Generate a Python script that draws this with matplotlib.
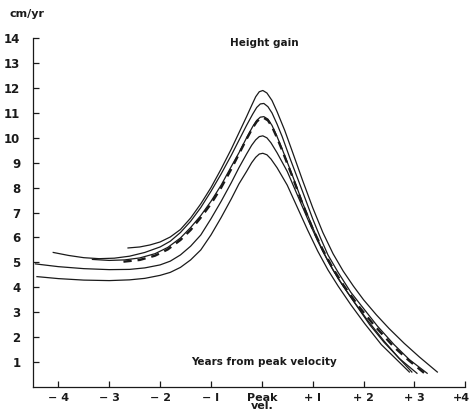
import matplotlib
matplotlib.use("Agg")
import matplotlib.pyplot as plt
from matplotlib.transforms import ScaledTranslation

# height velocity curves, years from peak velocity vs cm/yr
c1_x = [-2.63, -2.4, -2.2, -2.0, -1.8, -1.6, -1.4, -1.2, -1.0, -0.8, -0.6, -0.45, -0.3, -0.2, -0.12, -0.05,
        0.02, 0.1, 0.2, 0.3, 0.45, 0.6, 0.8, 1.0, 1.2, 1.4, 1.6, 1.8, 2.0, 2.25, 2.5, 2.8, 3.1, 3.45]
c1_y = [5.58, 5.62, 5.7, 5.82, 6.02, 6.32, 6.78, 7.35, 8.0, 8.75, 9.55, 10.2, 10.85, 11.3, 11.65, 11.85,
        11.9, 11.8, 11.5, 11.05, 10.3, 9.45, 8.3, 7.2, 6.2, 5.35, 4.65, 4.05, 3.5, 2.9, 2.35, 1.75, 1.2, 0.6]

c2_x = [-4.1, -3.8, -3.5, -3.2, -2.9, -2.6, -2.3, -2.0, -1.8, -1.6, -1.4, -1.2, -1.0, -0.8, -0.6, -0.45,
        -0.3, -0.18, -0.1, -0.03, 0.04, 0.12, 0.2, 0.3, 0.4, 0.55, 0.8, 1.0, 1.15, 1.3, 1.5, 1.75, 2.0,
        2.27, 2.6, 2.9, 3.25]
c2_y = [5.4, 5.28, 5.19, 5.15, 5.17, 5.25, 5.4, 5.62, 5.85, 6.2, 6.65, 7.2, 7.85, 8.55, 9.3, 9.9,
        10.5, 10.95, 11.22, 11.36, 11.38, 11.25, 11.0, 10.55, 10.05, 9.2, 7.85, 6.75, 6.0, 5.3, 4.6, 3.8,
        3.15, 2.45, 1.7, 1.1, 0.55]

c3_x = [-3.33, -3.0, -2.7, -2.4, -2.1, -1.85, -1.6, -1.4, -1.2, -1.0, -0.8, -0.6, -0.45, -0.3, -0.18,
        -0.1, -0.03, 0.04, 0.12, 0.2, 0.3, 0.4, 0.6, 0.8, 1.0, 1.2, 1.4, 1.6, 1.85, 2.12, 2.4, 2.7, 3.05]
c3_y = [5.12, 5.08, 5.1, 5.18, 5.35, 5.6, 5.98, 6.4, 6.88, 7.45, 8.1, 8.85, 9.4, 10.0, 10.45,
        10.7, 10.83, 10.85, 10.75, 10.5, 10.05, 9.55, 8.5, 7.4, 6.4, 5.45, 4.7, 4.05, 3.3, 2.5, 1.8,
        1.15, 0.55]

mean_x = [-2.72, -2.4, -2.1, -1.85, -1.6, -1.4, -1.2, -1.0, -0.8, -0.6, -0.45, -0.3, -0.18, -0.1, -0.03,
          0.04, 0.12, 0.2, 0.3, 0.4, 0.6, 0.8, 1.0, 1.2, 1.4, 1.6, 1.9, 2.22, 2.6, 2.9, 3.2]
mean_y = [5.03, 5.1, 5.27, 5.52, 5.9, 6.3, 6.8, 7.35, 8.0, 8.75, 9.35, 9.95, 10.4, 10.65, 10.78,
          10.8, 10.7, 10.45, 10.0, 9.5, 8.45, 7.35, 6.35, 5.5, 4.75, 4.1, 3.25, 2.45, 1.6, 1.05, 0.55]

c4_x = [-4.45, -4.0, -3.5, -3.0, -2.6, -2.3, -2.0, -1.8, -1.6, -1.4, -1.2, -1.0, -0.8, -0.6, -0.45, -0.3,
        -0.2, -0.12, -0.05, 0.02, 0.1, 0.18, 0.3, 0.5, 0.7, 0.9, 1.1, 1.3, 1.5, 1.75, 2.07, 2.4, 2.7, 2.95]
c4_y = [4.94, 4.83, 4.75, 4.71, 4.72, 4.78, 4.9, 5.05, 5.3, 5.65, 6.1, 6.75, 7.45, 8.2, 8.8, 9.35,
        9.7, 9.92, 10.05, 10.08, 10.0, 9.8, 9.4, 8.65, 7.7, 6.75, 5.85, 5.05, 4.35, 3.6, 2.7, 1.85,
        1.15, 0.6]

c5_x = [-4.42, -4.0, -3.5, -3.0, -2.6, -2.3, -2.0, -1.8, -1.6, -1.4, -1.2, -1.0, -0.8, -0.6, -0.45, -0.3,
        -0.2, -0.12, -0.05, 0.02, 0.1, 0.18, 0.3, 0.5, 0.7, 0.9, 1.1, 1.3, 1.5, 1.75, 2.02, 2.35, 2.65, 2.9]
c5_y = [4.43, 4.35, 4.29, 4.27, 4.3, 4.36, 4.48, 4.6, 4.8, 5.1, 5.5, 6.1, 6.8, 7.55, 8.15, 8.65,
        9.0, 9.22, 9.35, 9.38, 9.32, 9.15, 8.8, 8.1, 7.2, 6.3, 5.45, 4.7, 4.05, 3.3, 2.55, 1.7, 1.1, 0.6]

x_ticks = [-4, -3, -2, -1, 0, 1, 2, 3, 4]
x_labels = ["\u2212 4", "\u2212 3", "\u2212 2", "\u2212 l", "Peak\nvel.", "+ l", "+ 2", "+ 3", "+4"]
y_ticks = list(range(1, 15))

ink = "#1a1a1a"
fig = plt.figure(figsize=(4.7, 4.15), dpi=100)
ax = fig.add_axes([0.070, 0.0675, 0.92, 0.8405])

for xs, ys in [(c1_x, c1_y), (c2_x, c2_y), (c3_x, c3_y), (c4_x, c4_y), (c5_x, c5_y)]:
    ax.plot(xs, ys, color=ink, lw=0.9)
ax.plot(mean_x, mean_y, color=ink, lw=1.7, dashes=(3.5, 2.5))

ax.set_xlim(-4.5, 4.0)
ax.set_ylim(0, 14)
ax.spines["top"].set_visible(False)
ax.spines["right"].set_visible(False)
for s in ("left", "bottom"):
    ax.spines[s].set_color(ink)
    ax.spines[s].set_linewidth(0.9)

ax.set_xticks(x_ticks)
ax.set_xticklabels(x_labels, fontsize=8, fontweight="bold", linespacing=0.8)
ax.set_yticks(y_ticks)
ax.set_yticklabels([str(v) for v in y_ticks], fontsize=8.5, fontweight="bold")
ax.tick_params(direction="in", length=4, width=0.9, color=ink, labelcolor=ink)
ax.tick_params(axis="y", pad=9)
ax.tick_params(axis="x", pad=4)

# nudge the last x label so it stays inside the figure
last = ax.get_xticklabels()[-1]
last.set_transform(last.get_transform() + ScaledTranslation(-4 / 100, 0, fig.dpi_scale_trans))

ax.text(0.05, 13.8, "Height gain", ha="center", va="center", fontsize=7.5,
        fontweight="bold", color=ink)
ax.text(0.05, 1.0, "Years from peak velocity", ha="center", va="center", fontsize=7.5,
        fontweight="bold", color=ink)
fig.text(9 / 470, 1 - 14 / 415, "cm/yr", ha="left", va="center", fontsize=8,
         fontweight="bold", color=ink)

fig.savefig("out.png", dpi=100)
